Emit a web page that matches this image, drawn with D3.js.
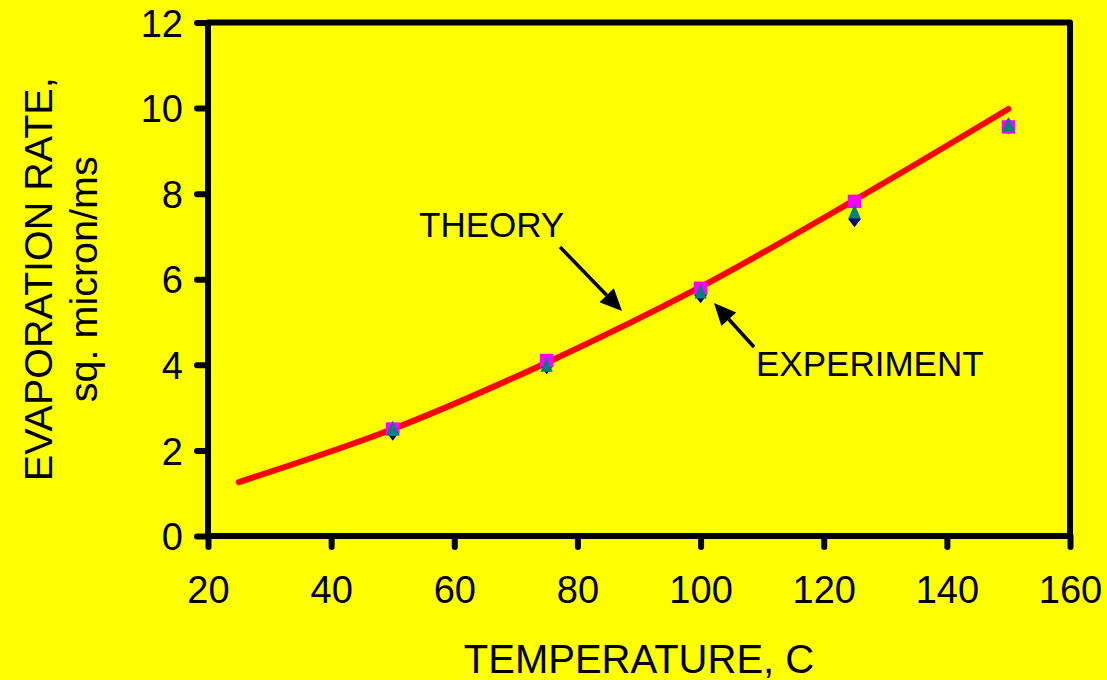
<!DOCTYPE html>
<html>
<head>
<meta charset="utf-8">
<script src="https://cdn.jsdelivr.net/npm/d3@7"></script>
<style>
  body { margin: 0; background: #ffff00; }
  svg { display: block; font-family: "Liberation Sans", Arial, sans-serif; }
</style>
</head>
<body>
<div id="chart"></div>
<script>
// theory curve (temperature C -> rate)
const theoryTemp = [25, 50, 75, 100, 125, 150];
const theoryRate = [1.26, 2.5, 4.05, 5.82, 7.85, 9.98];

// experiment points, three runs
const expTemp = [50, 75, 100, 125, 150];
const runDiamond = [2.42, 3.97, 5.63, 7.41, 9.58];
const runSquare = [2.50, 4.10, 5.79, 7.82, 9.56];
const runTriangle = [2.52, 4.00, 5.71, 7.58, 9.61];

const xTicks = [20, 40, 60, 80, 100, 120, 140, 160];
const yTicks = [0, 2, 4, 6, 8, 10, 12];

const outerWidth = 1107, outerHeight = 680;
const margin = {top: 22.5, right: 37, bottom: 144, left: 208};
const width = outerWidth - margin.left - margin.right;
const height = outerHeight - margin.top - margin.bottom;

const svg = d3.select("#chart").append("svg")
    .attr("width", outerWidth)
    .attr("height", outerHeight);

svg.append("rect")
    .attr("width", outerWidth)
    .attr("height", outerHeight)
    .attr("fill", "#ffff00");

const g = svg.append("g")
    .attr("transform", "translate(" + margin.left + "," + margin.top + ")");

const xScale = d3.scaleLinear().domain([20, 160]).range([0, width]);
const yScale = d3.scaleLinear().domain([0, 12]).range([height, 0]);

// frame
g.append("rect")
    .attr("width", width)
    .attr("height", height)
    .attr("fill", "none")
    .attr("stroke", "#000")
    .attr("stroke-width", 6)
    .attr("stroke-linejoin", "round");

const xAxis = d3.axisBottom(xScale).tickValues(xTicks).tickSize(11).tickPadding(29);
const yAxis = d3.axisLeft(yScale).tickValues(yTicks).tickSize(11).tickPadding(14);

const xaxis = g.append("g")
    .attr("class", "axis x-axis")
    .attr("transform", `translate(0, ${height})`)
    .call(xAxis);
const yaxis = g.append("g")
    .attr("class", "axis y-axis")
    .call(yAxis);

[xaxis, yaxis].forEach(a => {
    a.select(".domain").remove();
    a.selectAll(".tick line")
        .attr("stroke", "#000")
        .attr("stroke-width", 6)
        .attr("stroke-linecap", "round");
    a.selectAll(".tick text")
        .attr("fill", "#000")
        .attr("font-size", 38)
        .attr("font-family", "Liberation Sans, Arial, sans-serif");
});
yaxis.selectAll(".tick text").attr("dy", "0.36em");

// theory line
const line = d3.line()
    .x(d => xScale(d[0]))
    .y(d => yScale(d[1]))
    .curve(d3.curveMonotoneX);

g.append("path")
    .datum(d3.zip(theoryTemp, theoryRate))
    .attr("d", line)
    .attr("fill", "none")
    .attr("stroke", "#ff0000")
    .attr("stroke-width", 6)
    .attr("stroke-linecap", "round");

// experiment markers
function markers(vals, type, size, color) {
    g.selectAll(null)
        .data(d3.zip(expTemp, vals))
        .enter().append("path")
        .attr("transform", d => `translate(${xScale(d[0])},${yScale(d[1])})`)
        .attr("d", d3.symbol().type(type).size(size))
        .attr("fill", color);
}
const diamondShape = {
    draw(ctx, size) {
        const w = Math.sqrt(size) * 0.5, h = w * 1.3;
        ctx.moveTo(0, -h); ctx.lineTo(w, 0); ctx.lineTo(0, h); ctx.lineTo(-w, 0); ctx.closePath();
    }
};
const triShape = {
    draw(ctx, size) {
        const s = Math.sqrt(size);
        ctx.moveTo(0, -s * 0.55); ctx.lineTo(s * 0.45, s * 0.5); ctx.lineTo(-s * 0.45, s * 0.5); ctx.closePath();
    }
};
markers(runDiamond, diamondShape, 160, "#000080");
markers(runSquare, d3.symbolSquare, 180, "#ff00ff");
markers(runTriangle, triShape, 190, "#008080");

// annotations
function arrow(x1, y1, x2, y2) {
    const ang = Math.atan2(y2 - y1, x2 - x1);
    const len = 22, half = 10;
    const bx = x2 - len * Math.cos(ang), by = y2 - len * Math.sin(ang);
    svg.append("line")
        .attr("x1", x1).attr("y1", y1).attr("x2", bx).attr("y2", by)
        .attr("stroke", "#000").attr("stroke-width", 3.5);
    svg.append("path")
        .attr("d", `M${x2},${y2}L${bx + half * Math.sin(ang)},${by - half * Math.cos(ang)}L${bx - half * Math.sin(ang)},${by + half * Math.cos(ang)}Z`)
        .attr("fill", "#000");
}
arrow(560, 247, 622, 311);
arrow(754, 347, 714, 303);

svg.append("text")
    .attr("x", 419).attr("y", 237)
    .attr("font-size", 35)
    .text("THEORY");
svg.append("text")
    .attr("x", 756).attr("y", 376)
    .attr("font-size", 35)
    .text("EXPERIMENT");

// axis titles
svg.append("text")
    .attr("x", margin.left + width / 2)
    .attr("y", 673)
    .attr("text-anchor", "middle")
    .attr("font-size", 40)
    .text("TEMPERATURE, C");

const yt = svg.append("text")
    .attr("transform", `translate(0, ${margin.top + height / 2}) rotate(-90)`)
    .attr("text-anchor", "middle")
    .attr("font-size", 39.5);
yt.append("tspan").attr("x", 0).attr("y", 52).text("EVAPORATION RATE,");
yt.append("tspan").attr("x", 0).attr("y", 97).text("sq. micron/ms");
</script>
</body>
</html>
